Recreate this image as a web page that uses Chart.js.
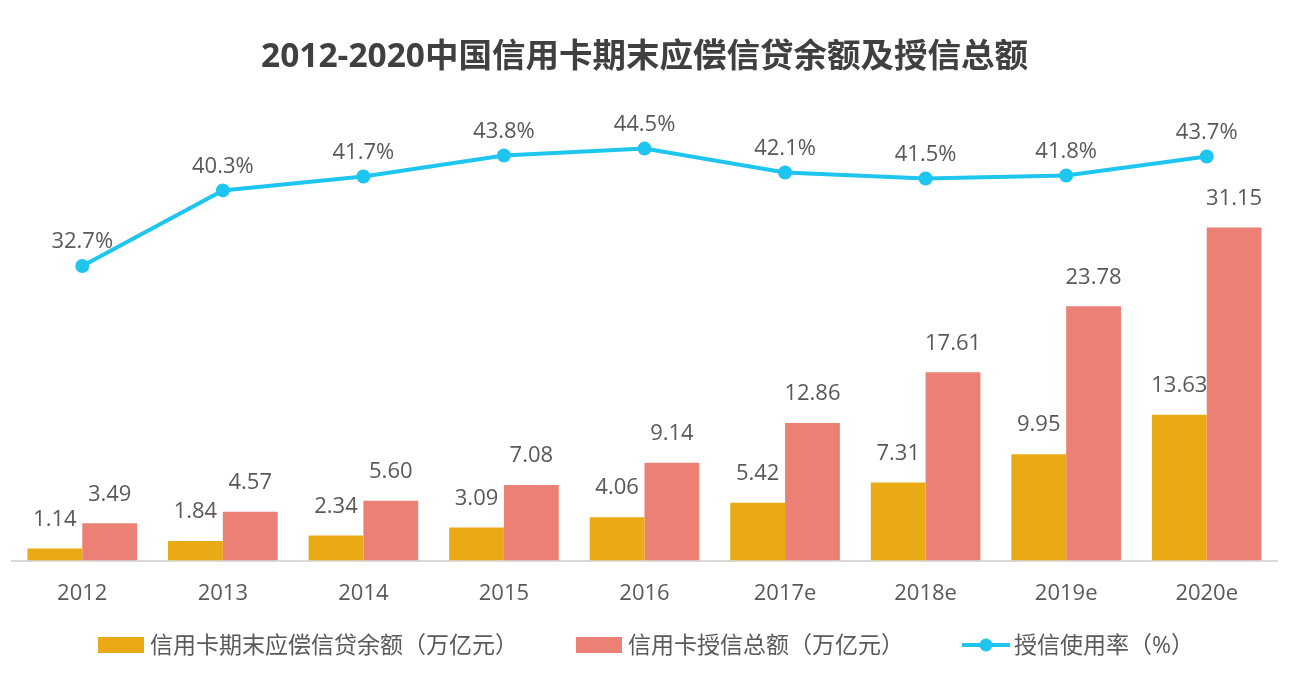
<!DOCTYPE html>
<html>
<head>
    <meta http-equiv="Content-Type" content="text/html; charset=utf-8"/>
    <title>信用卡授信</title>
    <style>
        body { margin: 0; background: #fff; }
    </style>
</head>
<body>
    <canvas id="myChart" width="1310" height="683"></canvas>
    <script src="https://cdn.jsdelivr.net/npm/chart.js"></script>
    <script>
        const years = ['2012', '2013', '2014', '2015', '2016', '2017e', '2018e', '2019e', '2020e'];
        const balance = [1.14, 1.84, 2.34, 3.09, 4.06, 5.42, 7.31, 9.95, 13.63];
        const totalCredit = [3.49, 4.57, 5.60, 7.08, 9.14, 12.86, 17.61, 23.78, 31.15];
        const usageRate = [32.7, 40.3, 41.7, 43.8, 44.5, 42.1, 41.5, 41.8, 43.7];

        const FONT = '"Open Sans", "Noto Sans CJK SC", sans-serif';
        const TEXT = '#595959';
        const GOLD = '#E9AA15';
        const SALMON = '#EC8074';
        const CYAN = '#1EC5EF';

        Chart.defaults.font.family = FONT;
        Chart.defaults.color = TEXT;

        // value labels above bars and points
        const valueLabels = {
            id: 'valueLabels',
            afterDatasetsDraw(chart) {
                const ctx = chart.ctx;
                ctx.save();
                ctx.font = '22px ' + FONT;
                ctx.fillStyle = TEXT;
                ctx.textAlign = 'center';
                ctx.textBaseline = 'middle';
                chart.data.datasets.forEach((ds, i) => {
                    const meta = chart.getDatasetMeta(i);
                    meta.data.forEach((el, j) => {
                        const v = ds.data[j];
                        if (ds.type === 'line') {
                            ctx.fillText(v.toFixed(1) + '%', el.x, el.y - 24);
                        } else {
                            ctx.fillText(v.toFixed(2), el.x, el.y - 29);
                        }
                    });
                });
                ctx.restore();
            }
        };

        // legend row at the bottom (box / line-with-dot swatches)
        const bottomLegend = {
            id: 'bottomLegend',
            afterDraw(chart) {
                const ctx = chart.ctx;
                const y = 645;
                const sw = 46, gapText = 6, gapItem = 58;
                ctx.save();
                ctx.font = '23px ' + FONT;
                const items = chart.data.datasets.map(ds => ({
                    text: ds.label,
                    line: ds.type === 'line',
                    color: ds.type === 'line' ? ds.borderColor : ds.backgroundColor,
                    w: sw + gapText + ctx.measureText(ds.label).width
                }));
                let total = items.reduce((s, it) => s + it.w, 0) + gapItem * (items.length - 1);
                let x = 646 - total / 2;
                ctx.textBaseline = 'middle';
                ctx.textAlign = 'left';
                items.forEach(it => {
                    if (it.line) {
                        ctx.strokeStyle = it.color;
                        ctx.lineWidth = 4;
                        ctx.beginPath();
                        ctx.moveTo(x, y);
                        ctx.lineTo(x + sw + 2, y);
                        ctx.stroke();
                        ctx.fillStyle = it.color;
                        ctx.beginPath();
                        ctx.arc(x + sw / 2 + 1, y, 6.5, 0, Math.PI * 2);
                        ctx.fill();
                    } else {
                        ctx.fillStyle = it.color;
                        ctx.fillRect(x, y - 8, sw, 16);
                    }
                    ctx.fillStyle = TEXT;
                    ctx.fillText(it.text, x + sw + gapText, y + 1);
                    x += it.w + gapItem;
                });
                ctx.restore();
            }
        };

        const chartData = {
            labels: years,
            datasets: [
                {
                    type: 'bar',
                    label: '信用卡期末应偿信贷余额（万亿元）',
                    data: balance,
                    backgroundColor: GOLD,
                    borderWidth: 0,
                    yAxisID: 'yBar',
                    categoryPercentage: 0.78,
                    barPercentage: 1.0
                },
                {
                    type: 'bar',
                    label: '信用卡授信总额（万亿元）',
                    data: totalCredit,
                    backgroundColor: SALMON,
                    borderWidth: 0,
                    yAxisID: 'yBar',
                    categoryPercentage: 0.78,
                    barPercentage: 1.0
                },
                {
                    type: 'line',
                    label: '授信使用率（%）',
                    data: usageRate,
                    borderColor: CYAN,
                    backgroundColor: CYAN,
                    borderWidth: 4,
                    pointRadius: 7,
                    pointBorderWidth: 0,
                    pointBackgroundColor: CYAN,
                    tension: 0,
                    yAxisID: 'yLine'
                }
            ]
        };

        const config = {
            data: chartData,
            options: {
                responsive: false,
                animation: false,
                layout: { padding: { left: 12, right: 33, top: 0, bottom: 56 } },
                plugins: {
                    legend: { display: false },
                    tooltip: { enabled: false },
                    title: {
                        display: true,
                        text: '2012-2020中国信用卡期末应偿信贷余额及授信总额',
                        color: '#404040',
                        font: { size: 33.5, weight: 'bold', family: FONT },
                        padding: { top: 37, bottom: 30 }
                    }
                },
                scales: {
                    x: {
                        grid: { display: false, drawTicks: false },
                        border: { display: true, color: '#D9D9D9', width: 2 },
                        ticks: { color: TEXT, font: { size: 22 }, padding: 20 }
                    },
                    yBar: {
                        display: false,
                        min: 0,
                        max: 42.4
                    },
                    yLine: {
                        display: false,
                        min: 3.1,
                        max: 48.66
                    }
                }
            },
            plugins: [valueLabels, bottomLegend]
        };

        const myChart = new Chart(
            document.getElementById('myChart'),
            config
        );
    </script>
</body>
</html>
